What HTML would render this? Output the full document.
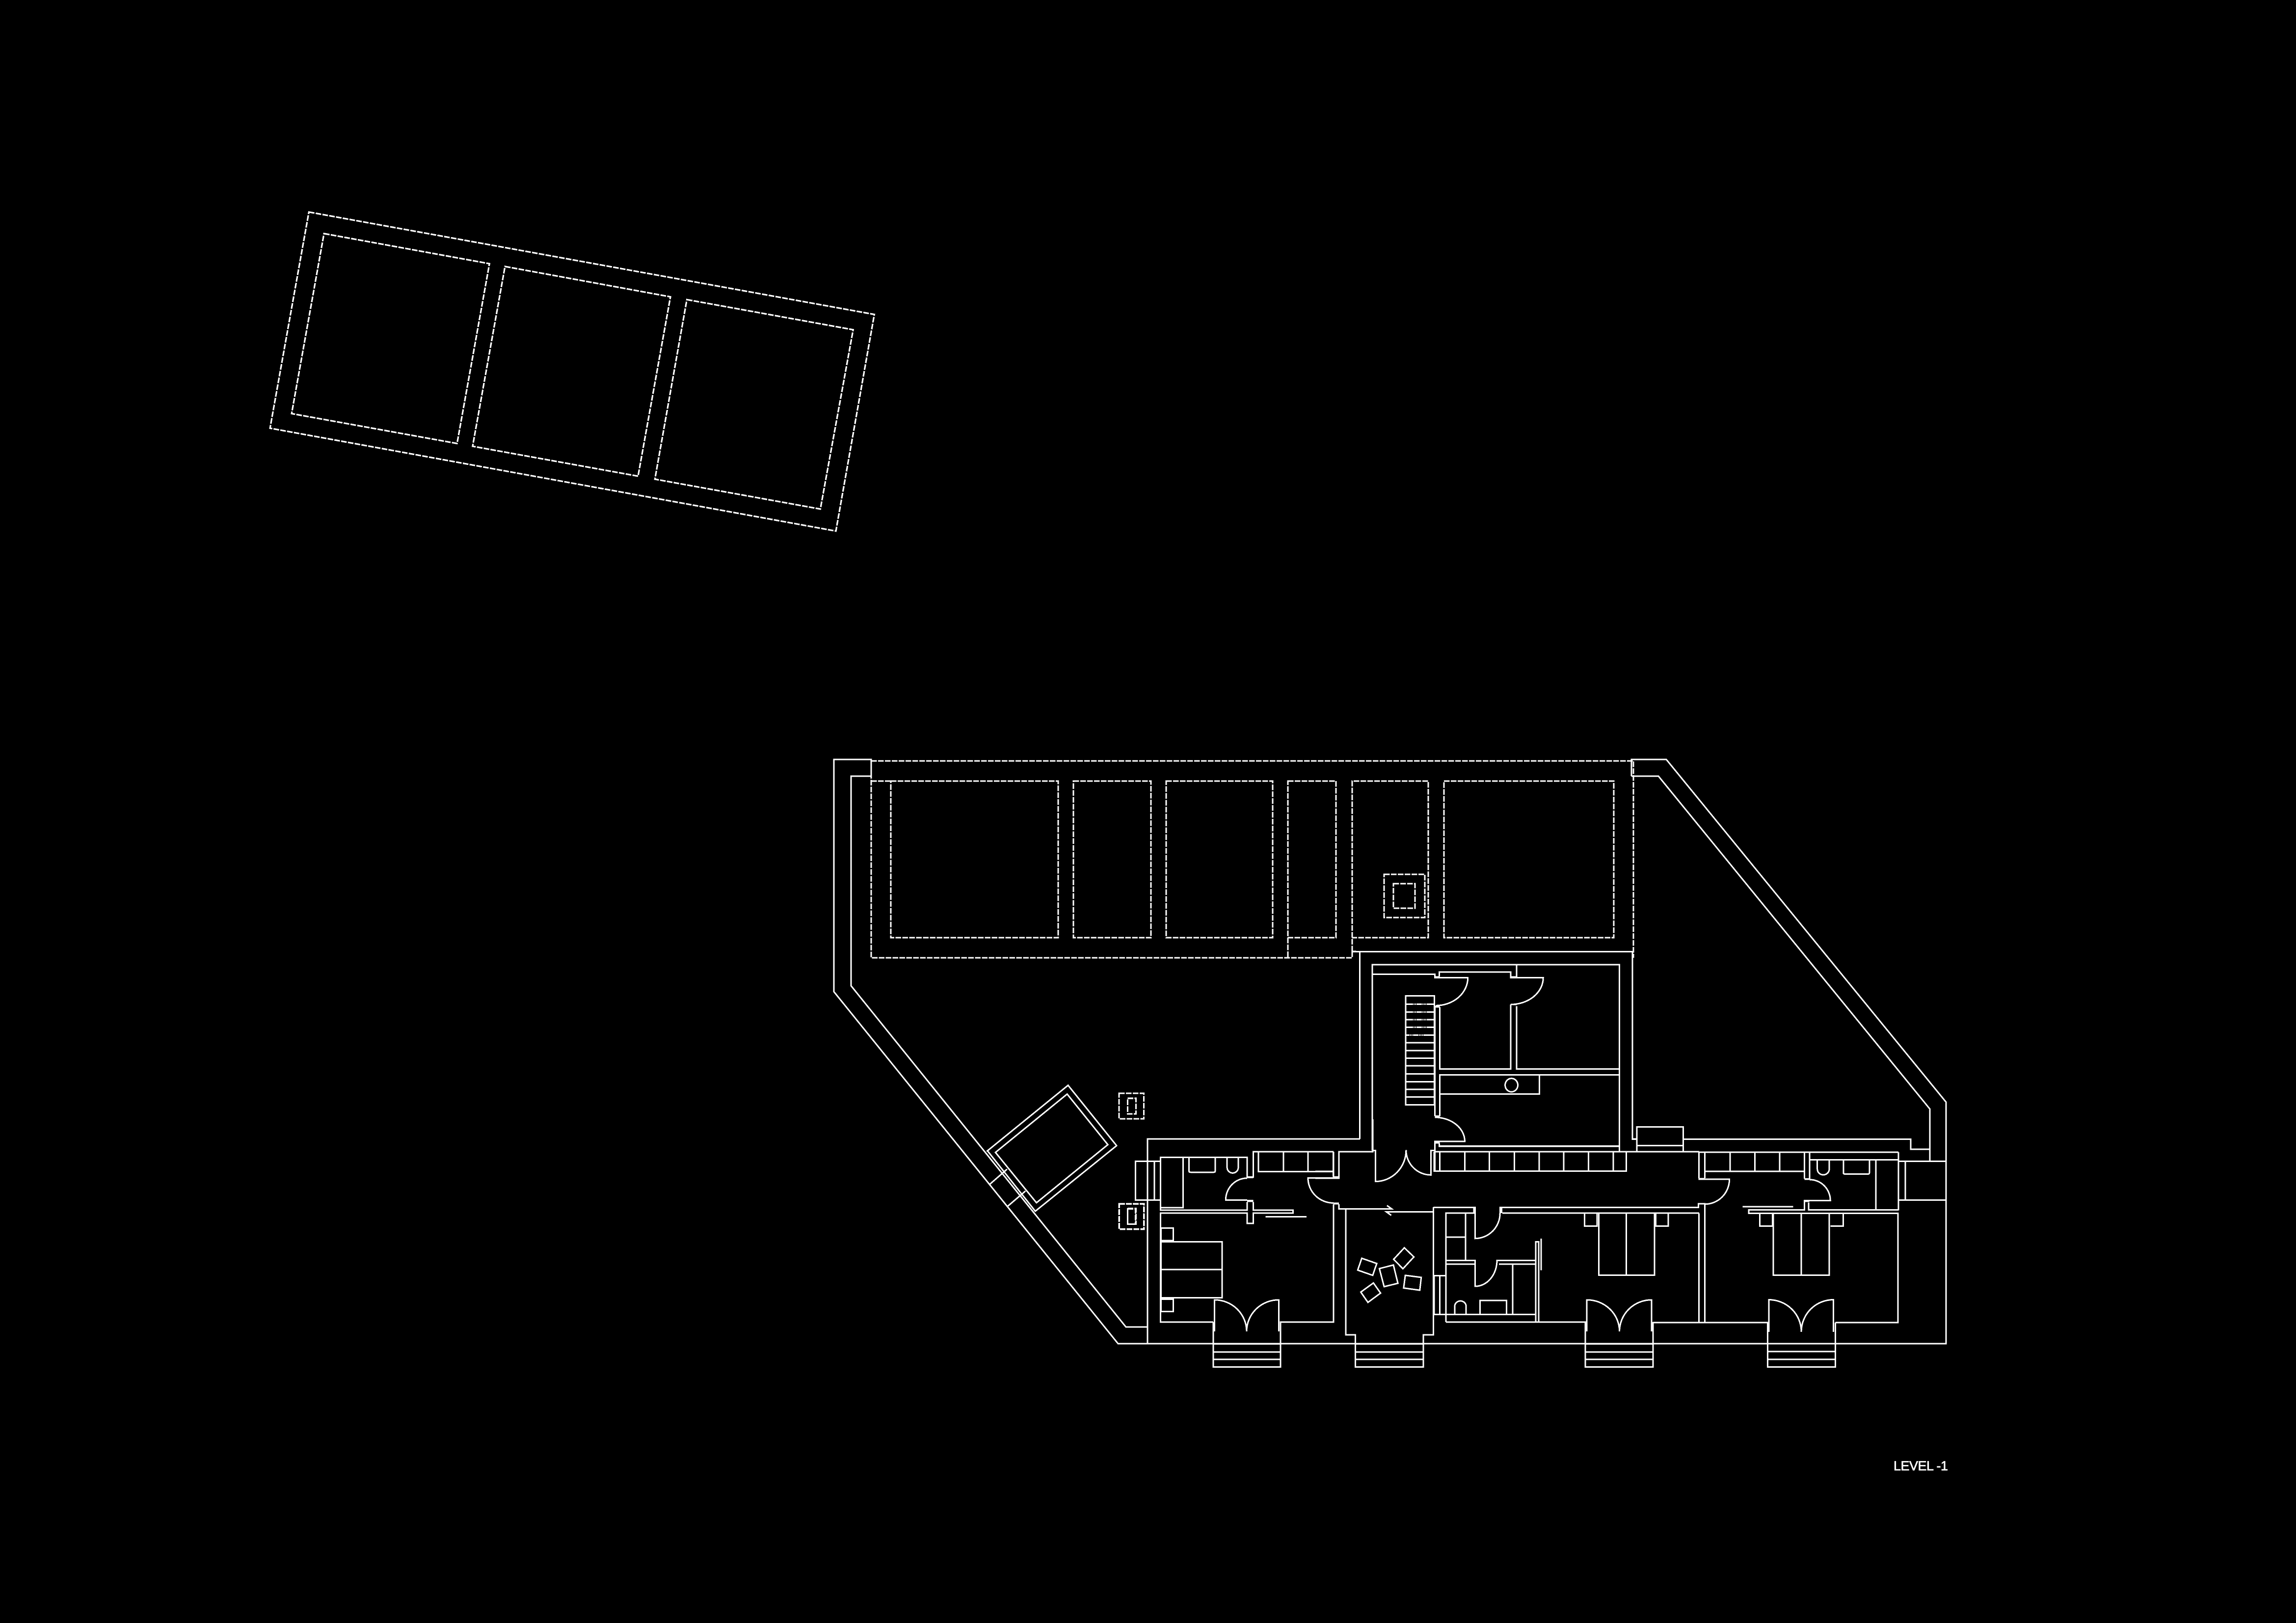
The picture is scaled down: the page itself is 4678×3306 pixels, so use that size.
<!DOCTYPE html>
<html><head><meta charset="utf-8"><title>Level -1</title>
<style>
html,body{margin:0;padding:0;background:#000;width:4678px;height:3306px;overflow:hidden}
svg{display:block}
path,line,rect,polygon,polyline,ellipse{vector-effect:non-scaling-stroke;fill:none;stroke:#fff;stroke-width:3;shape-rendering:crispEdges}
.d,.d *{stroke-dasharray:11.5 2.5;stroke-width:3.2}
rect.t{fill:#fff;stroke:none}
path.g{stroke:#000;stroke-width:5;stroke-dasharray:1 2}
text{font-family:"Liberation Sans",Arial,sans-serif;font-size:27px;letter-spacing:-.5px;fill:#fff;stroke:#fff;stroke-width:.7}
</style></head><body>
<svg xmlns="http://www.w3.org/2000/svg" width="4678" height="3306" viewBox="0 0 4678 3306">
<rect x="0" y="0" width="4678" height="3306" style="fill:#000;stroke:none"/>

<!-- detached rotated pool -->
<g class="d" transform="translate(500,380) scale(.88010,.47194)">
<polygon points="147,110 1456,552 1367,1487 57,1043"/>
<polygon points="182,203 565,333 490,1109 107,980"/>
<polygon points="601,345 984,476 909,1250 526,1121"/>
<polygon points="1022,488 1407,618 1331,1392 948,1263"/>
</g>

<!-- dashed upper band -->
<g class="d">
<path d="M1775 1550H3328V1951"/>
<path d="M2755 1938V1951H1775V1550"/>
<path d="M1775 1591H1815"/>
<rect x="1815" y="1591" width="341" height="319"/>
<rect x="2187" y="1591" width="158" height="319"/>
<rect x="2376" y="1591" width="217" height="319"/>
<rect x="2624" y="1591" width="98" height="319"/>
<path d="M2755 1938V1591H2910V1910H2755"/>
<rect x="2942" y="1591" width="346" height="319"/>
<path d="M2624 1910V1951"/>
<rect x="2820" y="1781" width="83" height="88"/>
<rect x="2839" y="1800" width="44" height="50"/>
<path d="M2755 1938H2763"/>
</g>

<!-- outer walls, real coordinates -->
<path d="M3324 1581V1547H3395L3965 2245V2737H2278L1699 2020V1547H1775V1581H1734V2008L2294 2703H2338"/>
<path d="M3324 1581H3379L3932 2259V2365"/>
<path d="M2338 2737V2320H2771"/>

<!-- pool + small dashed boxes -->
<g transform="translate(1680,2000) scale(.63776,.51020)">
<path d="M518 677L778 413L933 654L672 917"/>
<polygon points="546,681 775,448 905,650 677,882"/>
<path d="M522 677L674 917"/>
<path d="M528 808L583 748M585 896L642 835"/>
<g class="d">
<rect x="941" y="445" width="79" height="102"/>
<rect x="968" y="465" width="27" height="62"/>
<rect x="941" y="886" width="79" height="102"/>
<rect x="968" y="905" width="27" height="62"/>
</g>
</g>

<!-- central core -->
<g transform="translate(2680,1920) scale(.44643,.33333)">
<path d="M170 56H1450"/>
<path d="M203 56V1200"/>
<path d="M1447 56V1200H1467"/>
<path d="M260 1270V135H1388V1278"/>
<path d="M262 193H545V214H696A146 171 0 0 1 550 385"/>
<rect class="t" x="545" y="205" width="23" height="10"/>
<path d="M566 205V180H892V214H1040A148 164 0 0 1 892 378H918"/>
<rect class="t" x="892" y="205" width="26" height="10"/>
<path d="M918 135V210"/>
<rect class="t" x="545" y="385" width="23" height="12"/>
<path d="M545 395V1060"/>
<path d="M568 395V772H892V378"/>
<path d="M918 388V772H1388"/>
<path d="M1388 808H568V1060"/>
<rect x="568" y="808" width="455" height="118"/>
<ellipse cx="895" cy="871" rx="29" ry="41"/>
<rect x="412" y="325" width="131" height="667"/>
<path d="M412 376H543M412 424H543M412 471H543M412 518H543M412 565H543M412 612H543M412 660H543M412 706H543M412 753H543M412 802H543M412 850H543M412 897H543M412 944H543"/>
<path class="g" d="M446 376H462M486 376H510M446 424H462M486 424H510M446 471H462M486 471H510M446 518H462M486 518H510M430 565H446M470 565H494"/>
<rect class="t" x="545" y="1056" width="23" height="12"/>
<path d="M545 1068A137 147 0 0 1 682 1215H545V1398"/>
<rect class="t" x="545" y="1215" width="23" height="14"/>
<path d="M566 1229V1245H1388"/>
<path d="M262 1270H274V1460A140 192 0 0 0 414 1268A113 152 0 0 0 527 1420V1270H545"/>
<path d="M262 1270V1278H108V1440H0"/>
<path d="M82 1278V1430"/>
<path d="M0 1278H82"/>
<path d="M0 1398H82"/>
<rect class="t" x="85" y="1428" width="25" height="12"/>
<path d="M0 1200H203"/>
</g>

<!-- west wing -->
<g transform="translate(2220,2280) scale(.48473,.34435)">
<rect x="193" y="248" width="105" height="230"/>
<path d="M272 248V478"/>
<rect x="298" y="225" width="95" height="298"/>
<path d="M393 225H662V345"/>
<path d="M418 228V307Q418 313 424 313H522Q528 313 528 307V228"/>
<path d="M578 228V285A23 32 0 0 0 625 285V228"/>
<path d="M688 345V192H1025"/>
<path d="M710 192V310H1025"/>
<path d="M815 192V310M918 192V310"/>
<rect class="t" x="662" y="337" width="26" height="12"/>
<path d="M662 348A90 130 0 0 0 572 478H662"/>
<rect class="t" x="662" y="476" width="26" height="14"/>
<path d="M298 523V537H662V490M688 490V537H855V555H688V615H662V555H298V1200H520"/>
<path d="M740 576H912"/>
<rect x="300" y="643" width="52" height="75"/>
<rect x="300" y="1065" width="52" height="72"/>
<rect class="t" x="300" y="714" width="52" height="12"/>
<rect class="t" x="300" y="1052" width="52" height="14"/>
<rect x="300" y="725" width="257" height="330"/>
<path d="M300 888H557"/>
<path d="M520 1200V1465H803V1200H1025V503"/>
<path d="M525 1255V1068A135 187 0 0 1 660 1255A135 187 0 0 1 795 1068V1255"/>
<path d="M520 1329H803M520 1376H803M520 1420H803"/>
<path d="M1025 192V345"/>
<path d="M1048 192V345"/>
<path d="M1048 192H1190V0"/>
<rect class="t" x="1025" y="337" width="23" height="12"/>
<path d="M1048 347H918A107 148 0 0 0 1025 495"/>
<rect class="t" x="1025" y="492" width="23" height="12"/>
<path d="M1048 503V530H1270L1250 510"/>
<path d="M1268 568L1248 548H1445"/>
<path d="M1077 530V1275H1117V1465H1403V1275H1445V520"/>
<path d="M1117 1329H1403M1117 1376H1403M1117 1420H1403"/>
<polygon points="1144,822 1207,853 1190,923 1127,892"/>
<polygon points="1218,883 1277,862 1296,970 1238,990"/>
<polygon points="1323,760 1363,814 1317,884 1278,828"/>
<polygon points="1327,923 1394,935 1388,1011 1320,998"/>
<polygon points="1193,968 1223,1028 1170,1083 1140,1022"/>
<g class="d">
<rect x="125" y="500" width="104" height="150"/>
<rect x="160" y="530" width="33" height="90"/>
</g>
</g>

<!-- central east block -->
<g transform="translate(2700,2280) scale(.48473,.34435)">
<path d="M458 192H1572"/>
<path d="M458 192V307H1266V192"/>
<path d="M482 192V307M587 192V307M690 192V307M795 192V307M899 192V307M1003 192V307M1107 192V307M1211 192V307"/>
<path d="M482 158H1237"/>
<path d="M1237 0V190"/>
<path d="M1291 0V118H1310"/>
<rect x="1310" y="45" width="195" height="147"/>
<path d="M1310 155H1505"/>
<path d="M1505 118H1572"/>
<path d="M455 521H630V705A105 150 0 0 0 735 555V521H1572"/>
<path d="M745 555H1572"/>
<rect class="t" x="622" y="525" width="10" height="30"/>
<rect class="t" x="735" y="525" width="10" height="30"/>
<path d="M507 1200V555H630"/>
<path d="M590 555V835"/>
<path d="M507 697H590"/>
<path d="M507 835H630V988A92 153 0 0 0 722 835H885"/>
<path d="M507 857H630"/>
<path d="M730 857H885"/>
<path d="M885 1195V725H897V1200"/>
<path d="M908 705V893"/>
<path d="M788 857V1155"/>
<path d="M507 1155H885"/>
<path d="M507 1200H1093V1465H1378V1200"/>
<rect x="458" y="925" width="49" height="230"/>
<path d="M482 925V1155"/>
<path d="M545 1155V1100A24 32 0 0 1 592 1100V1155"/>
<path d="M651 1155V1072H762V1155"/>
<rect x="1150" y="555" width="234" height="367"/>
<path d="M1266 555V922"/>
<path d="M1090 555V632H1143V555"/>
<path d="M1384 632H1442V555"/>
<path d="M1100 1255V1068A137 187 0 0 1 1237 1255A135 187 0 0 1 1372 1068V1255"/>
<path d="M1093 1329H1378M1093 1376H1378M1093 1420H1378"/>
</g>

<!-- east wing -->
<g transform="translate(3300,2260) scale(.45918,.35714)">
<path d="M285 170H1291V227H1377"/>
<path d="M1237 295H1450"/>
<path d="M1237 243V575"/>
<path d="M1237 516H1450"/>
<path d="M1268 295V516"/>
<path d="M352 243H1237"/>
<path d="M352 243V392"/>
<path d="M378 243V392"/>
<rect class="t" x="350" y="390" width="28" height="10"/>
<path d="M378 353H820"/>
<path d="M490 243V353M600 243V353M710 243V353"/>
<path d="M820 243V395"/>
<path d="M843 243V398"/>
<rect class="t" x="820" y="392" width="23" height="10"/>
<path d="M843 287H1237"/>
<path d="M877 287V340A26 32 0 0 0 930 340V287"/>
<path d="M993 287V362Q993 368 999 368H1102Q1108 368 1108 362V287"/>
<path d="M1137 287V570"/>
<path d="M843 400A92 120 0 0 1 935 520H820V573H573V592H1235V1215H957"/>
<path d="M838 530V573H1237"/>
<rect class="t" x="820" y="520" width="22" height="8"/>
<path d="M378 540A109 142 0 0 0 487 398H350"/>
<path d="M350 557V537H378V1213"/>
<path d="M352 592V1213"/>
<path d="M545 555H770"/>
<rect x="682" y="592" width="248" height="353"/>
<path d="M806 592V945"/>
<path d="M622 592V665H680"/>
<path d="M935 665H992V592"/>
<rect class="t" x="675" y="592" width="9" height="70"/>
<rect class="t" x="155" y="592" width="8" height="70"/>
<path d="M147 1215H657V1468H957V1215"/>
<path d="M662 1268V1085A144 183 0 0 1 806 1268A142 183 0 0 1 948 1085V1268"/>
<path d="M657 1336H957M657 1380H957M657 1425H957"/>
</g>

<text x="3858" y="2995">LEVEL -1</text>
</svg>
</body></html>
